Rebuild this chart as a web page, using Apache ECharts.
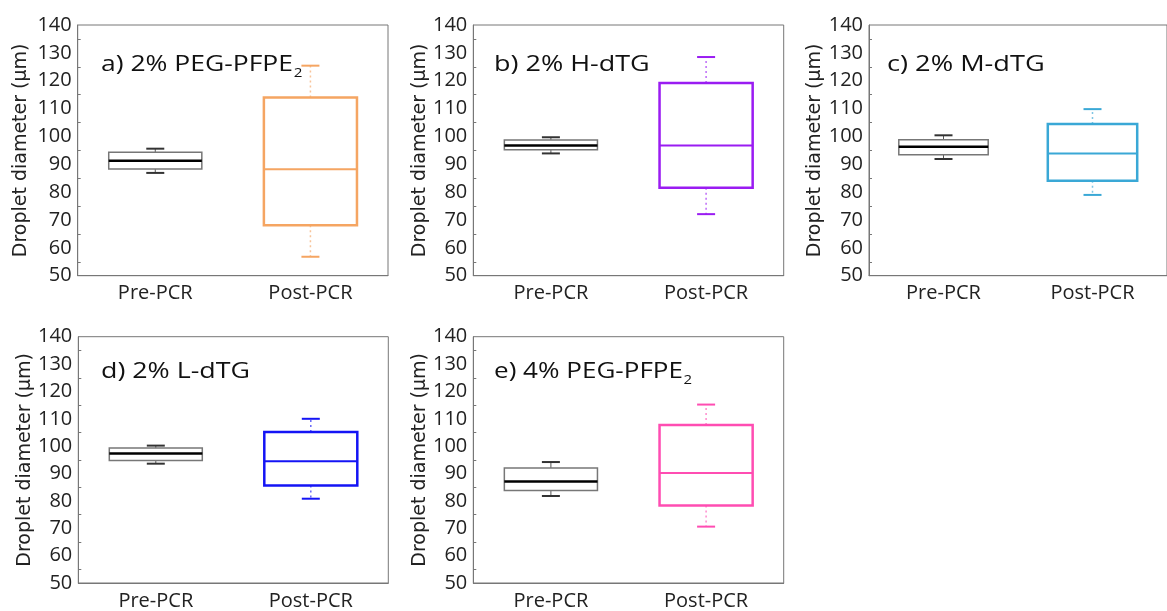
<!DOCTYPE html>
<html><head><meta charset="utf-8">
<script src="https://cdn.jsdelivr.net/npm/echarts@6/dist/echarts.min.js"></script>
<style>html,body{margin:0;padding:0;background:#fff}#c{width:1167px;height:611px}</style>
</head><body><div id="c"></div>
<script>
// ---------- data ----------
const categories = ['Pre-PCR', 'Post-PCR'];
const yMin = 50, yMax = 140, yInterval = 10;
const axisName = 'Droplet diameter (μm)';
const titles = ['a) 2% PEG-PFPE', 'b) 2% H-dTG', 'c) 2% M-dTG', 'd) 2% L-dTG', 'e) 4% PEG-PFPE'];
const titleSubs = ['2', '', '', '', '2'];
// [min, Q1, median, Q3, max]
const preA  = [86.9, 88.3, 91.3, 94.3, 95.6];
const postA = [56.8, 68.1, 88.2, 114.0, 125.4];
const preB  = [93.9, 95.2, 96.7, 98.7, 99.7];
const postB = [72.1, 81.6, 96.7, 119.2, 128.5];
const preC  = [91.9, 93.4, 96.3, 98.8, 100.4];
const postC = [79.0, 84.1, 93.9, 104.5, 109.8];
const preD  = [93.6, 94.8, 97.3, 99.3, 100.2];
const postD = [80.8, 85.6, 94.5, 105.2, 110.0];
const preE  = [81.8, 83.8, 87.1, 92.0, 94.2];
const postE = [70.6, 78.3, 90.2, 107.7, 115.2];
const postColors = ['#F5A562', '#9A1CF2', '#3AA8D6', '#1414F5', '#FF4DB2'];

// ---------- layout ----------
const panels = [
  {pre: preA, post: postA, left: 77.7, top: 25, width: 310.3, height: 250.7, nameGap: 47, tx: 101, ty: 65, tw: 192},
  {pre: preB, post: postB, left: 473.3, top: 25, width: 310.4, height: 250.7, nameGap: 43, tx: 494, ty: 65, tw: 155.7},
  {pre: preC, post: postC, left: 869, top: 25, width: 310, height: 250.7, nameGap: 43, tx: 887, ty: 65, tw: 157.7},
  {pre: preD, post: postD, left: 78.3, top: 336.7, width: 310, height: 250, nameGap: 43, tx: 101, ty: 371.7, tw: 149},
  {pre: preE, post: postE, left: 473.3, top: 336.7, width: 310.4, height: 250, nameGap: 43, tx: 494, ty: 371.7, tw: 189}
];

const FONT = '"Open Sans", "DejaVu Sans", sans-serif';
const AX = '#777';
const TXT = '#222';
const TITLE_SIZE = 21;

const mctx = document.createElement('canvas').getContext('2d');
function textWidth(t, size) { mctx.font = size + 'px "Open Sans"'; return mctx.measureText(t).width; }

function makeRender(color) {
  return function (params, api) {
    const i = api.value(0);
    const isPre = i === 0;
    const bw = api.size([1, 0])[0] * 0.6;
    const cap = 18;
    const pMin = api.coord([i, api.value(1)]);
    const pQ1 = api.coord([i, api.value(2)]);
    const pMed = api.coord([i, api.value(3)]);
    const pQ3 = api.coord([i, api.value(4)]);
    const pMax = api.coord([i, api.value(5)]);
    const x = pMed[0];
    const wStyle = isPre ? {stroke: '#555', lineWidth: 1}
                         : {stroke: color, lineWidth: 1.5, lineDash: [2, 3], opacity: 0.65};
    const capStyle = {stroke: isPre ? '#333' : color, lineWidth: 2};
    return {
      type: 'group',
      children: [
        {type: 'line', shape: {x1: x, y1: pQ3[1], x2: x, y2: pMax[1]}, style: wStyle},
        {type: 'line', shape: {x1: x, y1: pQ1[1], x2: x, y2: pMin[1]}, style: wStyle},
        {type: 'line', shape: {x1: x - cap / 2, y1: pMax[1], x2: x + cap / 2, y2: pMax[1]}, style: capStyle},
        {type: 'line', shape: {x1: x - cap / 2, y1: pMin[1], x2: x + cap / 2, y2: pMin[1]}, style: capStyle},
        {type: 'rect', shape: {x: x - bw / 2, y: pQ3[1], width: bw, height: pQ1[1] - pQ3[1]},
          style: {fill: 'none', stroke: isPre ? '#777' : color, lineWidth: isPre ? 1.5 : 2.5}},
        {type: 'line', shape: {x1: x - bw / 2, y1: pMed[1], x2: x + bw / 2, y2: pMed[1]},
          style: {stroke: isPre ? '#000' : color, lineWidth: isPre ? 2.5 : 2}}
      ]
    };
  };
}

const grid = [], xAxis = [], yAxis = [], series = [], graphic = [];
panels.forEach(function (p, k) {
  grid.push({left: p.left, top: p.top, width: p.width, height: p.height, show: true,
    borderColor: AX, borderWidth: 1, backgroundColor: 'transparent'});
  xAxis.push({type: 'category', gridIndex: k, data: categories, boundaryGap: true,
    axisLine: {lineStyle: {color: AX, width: 1}},
    axisTick: {inside: true, alignWithLabel: true, length: 4, lineStyle: {color: AX}},
    axisLabel: {color: TXT, fontSize: 20, fontFamily: FONT, margin: 8},
    splitLine: {show: false}});
  yAxis.push({type: 'value', gridIndex: k, min: yMin, max: yMax, interval: yInterval,
    name: axisName, nameLocation: 'middle', nameGap: p.nameGap,
    nameTextStyle: {color: TXT, fontSize: 19, fontFamily: '"DejaVu Sans", sans-serif'},
    axisLine: {show: true, lineStyle: {color: AX, width: 1}},
    axisTick: {inside: true, length: 5, lineStyle: {color: AX}},
    minorTick: {show: true, splitNumber: 2, length: 3, lineStyle: {color: AX}},
    axisLabel: {color: TXT, fontSize: 20, fontFamily: FONT, margin: 6},
    splitLine: {show: false}});
  series.push({type: 'custom', xAxisIndex: k, yAxisIndex: k,
    renderItem: makeRender(postColors[k]),
    encode: {x: 0, y: [1, 2, 3, 4, 5]},
    data: [[0].concat(p.pre), [1].concat(p.post)]});
  const w = textWidth(titles[k], TITLE_SIZE);
  const sx = p.tw / w;
  const children = [{type: 'text', x: 0, y: 0,
    style: {text: titles[k], font: TITLE_SIZE + 'px "Open Sans"', fill: '#111', textVerticalAlign: 'middle'}}];
  if (titleSubs[k]) {
    children.push({type: 'text', x: w + 0.5, y: 9,
      style: {text: titleSubs[k], font: '12px "Open Sans"', fill: '#111', textVerticalAlign: 'middle'}});
  }
  graphic.push({type: 'group', x: p.tx, y: p.ty, scaleX: sx, scaleY: 1, children: children, z: 10});
});

const chart = echarts.init(document.getElementById('c'), null, {renderer: 'canvas'});
chart.setOption({backgroundColor: '#fff', animation: false, grid: grid, xAxis: xAxis, yAxis: yAxis, series: series, graphic: graphic});
</script>
</body></html>
